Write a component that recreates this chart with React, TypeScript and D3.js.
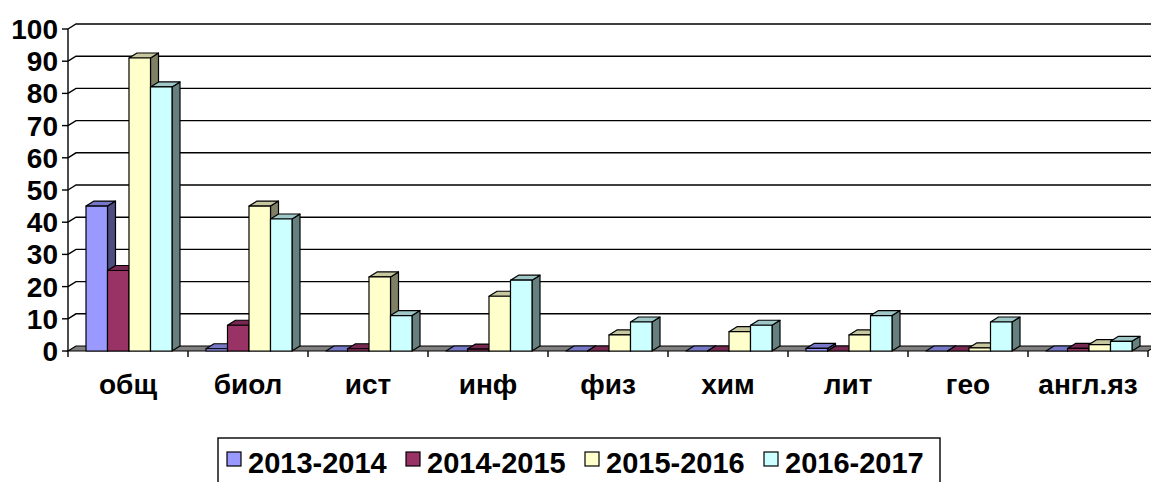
import React from 'react';
import * as d3 from 'd3';

const categories = ['общ', 'биол', 'ист', 'инф', 'физ', 'хим', 'лит', 'гео', 'англ.яз'];
const seriesNames = ['2013-2014', '2014-2015', '2015-2016', '2016-2017'];
const s2013 = [45, 0.7, 0, 0, 0, 0, 0.8, 0, 0];
const s2014 = [25, 8, 0.7, 0.6, 0, 0, 0, 0, 0.8];
const s2015 = [91, 45, 23, 17, 5, 6, 5, 1, 2];
const s2016 = [82, 41, 11, 22, 9, 8, 11, 9, 3];
const yTicks = [0, 10, 20, 30, 40, 50, 60, 70, 80, 90, 100];

const colors = ['#9999FF', '#993366', '#FFFFCC', '#CCFFFF'];

const FONT = '"Liberation Sans", Arial, sans-serif';
const W = 1151;
const H = 482;
// depth of the 3d look
const dx = 8;
const dy = -5;

const shade = (c: string, k: number) => {
  const r = d3.rgb(c);
  return d3.rgb(r.r * k, r.g * k, r.b * k).formatHex();
};

export default function App() {
  const data = [s2013, s2014, s2015, s2016];

  const x = d3.scaleBand<string>().domain(categories).range([68, 1148]).padding(0);
  const x1 = d3.scaleBand<string>().domain(seriesNames).range([18, 104]).padding(0);
  const y = d3.scaleLinear().domain([0, 100]).range([351, 29]);

  const left = x.range()[0];
  const right = x.range()[1];
  const base = y(0);

  const poly = (pts: number[][]) => pts.map((p) => p.join(',')).join(' ');

  // legend layout
  const legendStep = 179;
  const legendX0 = 227;

  return (
    <svg width={W} height={H} style={{ position: 'absolute', left: 0, top: 0, background: '#fff' }}
      fontFamily={FONT} fontWeight="bold">
      {/* gridlines on back wall */}
      {yTicks.map((t) => (
        <g key={'g' + t}>
          <line x1={left - 6} x2={left} y1={y(t)} y2={y(t)} stroke="#000" strokeWidth={1.4} />
          {t > 0 && (
            <polyline points={poly([[left, y(t)], [left + dx, y(t) + dy], [W, y(t) + dy]])}
              fill="none" stroke="#000" strokeWidth={1.4} />
          )}
          <text x={58} y={y(t)} dy="0.36em" textAnchor="end" fontSize={28}>{t}</text>
        </g>
      ))}
      <line x1={left} x2={left} y1={y(100)} y2={base} stroke="#000" strokeWidth={1.4} />

      {/* floor */}
      <polygon points={poly([[left, base], [right, base], [right + dx, base + dy], [left + dx, base + dy]])}
        fill="#808080" stroke="#000" strokeWidth={1.2} />

      {/* category ticks */}
      {d3.range(categories.length + 1).map((i) => {
        const xx = left + i * x.bandwidth();
        return <line key={'t' + i} x1={xx} x2={xx} y1={base} y2={base + 6} stroke="#000" strokeWidth={1.4} />;
      })}

      {/* bars */}
      {categories.map((c, ci) => (
        <g key={c}>
          {seriesNames.map((s, si) => {
            const v = data[si][ci];
            const bx = (x(c) as number) + (x1(s) as number);
            const bw = x1.bandwidth();
            const top = y(v);
            const col = colors[si];
            return (
              <g key={s} stroke="#000" strokeWidth={1.2} strokeLinejoin="round">
                <polygon points={poly([[bx + bw, base], [bx + bw + dx, base + dy], [bx + bw + dx, top + dy], [bx + bw, top]])}
                  fill={shade(col, 0.5)} />
                <polygon points={poly([[bx, top], [bx + dx, top + dy], [bx + bw + dx, top + dy], [bx + bw, top]])}
                  fill={shade(col, 0.78)} />
                <rect x={bx} y={top} width={bw} height={base - top} fill={col} />
              </g>
            );
          })}
        </g>
      ))}

      {/* category labels */}
      {categories.map((c) => (
        <text key={'l' + c} x={(x(c) as number) + x.bandwidth() / 2} y={394} textAnchor="middle" fontSize={28}>{c}</text>
      ))}

      {/* legend */}
      <rect x={218} y={438} width={722} height={60} fill="#fff" stroke="#000" strokeWidth={1.4} />
      {seriesNames.map((s, i) => {
        const lx = legendX0 + i * legendStep;
        return (
          <g key={'lg' + s}>
            <rect x={lx} y={452} width={14} height={14} fill={colors[i]} stroke="#000" strokeWidth={1.2} />
            <text x={lx + 21} y={473} fontSize={29}>{s}</text>
          </g>
        );
      })}
    </svg>
  );
}
